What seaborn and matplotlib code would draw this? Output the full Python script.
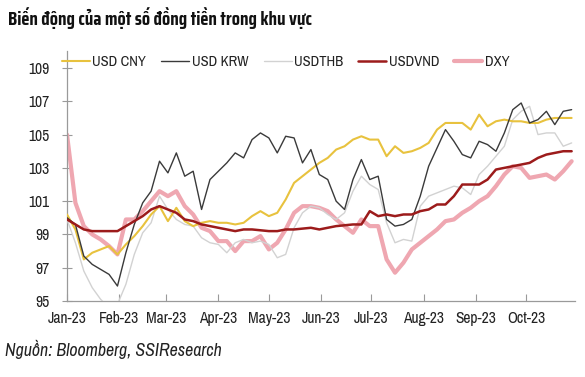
import numpy as np
import pandas as pd
import matplotlib
matplotlib.use("Agg")
import matplotlib.pyplot as plt
import matplotlib.dates as mdates
from matplotlib import font_manager as fm
from matplotlib.textpath import TextPath
from matplotlib.ft2font import FT2Font
import seaborn as sns

# ---------------- data ----------------
dates = pd.date_range("2023-01-01", periods=61, freq="5D")

usd_cny = [100.2, 99.3, 97.5, 97.9, 98.1, 98.3, 97.8, 98.4, 98.9, 99.5, 100.2, 100.7, 99.8, 100.6, 99.8,
           99.5, 99.7, 99.8, 99.7, 99.7, 99.6, 99.7, 100.1, 100.4, 100.1, 100.3, 101.1, 102.1, 102.5, 102.9,
           103.3, 103.6, 104.1, 104.3, 104.7, 104.9, 104.7, 104.7, 103.7, 104.3, 103.9, 104.0, 104.2, 104.5, 105.3,
           105.7, 105.7, 105.7, 105.3, 106.2, 105.5, 105.8, 105.9, 105.8, 105.8, 105.7, 105.7, 105.9, 106.0, 106.0, 106.0]

usd_krw = [100.0, 99.6, 97.7, 97.2, 96.9, 96.6, 95.9, 97.9, 99.6, 100.9, 101.6, 103.4, 102.7, 103.9, 102.5,
           102.8, 100.5, 102.3, 102.8, 103.3, 103.9, 103.6, 104.7, 105.1, 104.8, 103.9, 104.9, 104.8, 103.3, 104.1,
           102.6, 102.3, 101.0, 100.5, 102.3, 103.5, 102.3, 102.5, 99.9, 99.5, 99.6, 99.9, 101.3, 103.1, 104.2,
           105.3, 104.6, 103.8, 103.6, 104.6, 104.4, 104.0, 105.1, 106.5, 106.9, 105.7, 105.9, 106.4, 105.6, 106.4, 106.5]

usd_thb = [99.9, 98.5, 96.8, 95.8, 95.1, 94.6, 94.8, 96.0, 97.8, 99.1, 99.7, 101.3, 100.5, 99.9, 99.6,
           99.5, 98.8, 98.5, 98.4, 97.9, 98.5, 98.7, 98.5, 98.6, 98.4, 97.6, 97.8, 99.4, 100.3, 100.7,
           100.6, 100.2, 99.9, 100.3, 101.6, 102.5, 102.0, 101.7, 99.7, 98.5, 98.7, 98.6, 100.7, 101.3, 101.5,
           101.7, 101.9, 101.8, 101.4, 102.6, 103.1, 103.7, 104.3, 105.9, 106.4, 106.7, 105.0, 105.1, 105.1, 104.3, 104.5]

usd_vnd = [99.9, 99.6, 99.3, 99.2, 99.2, 99.2, 99.2, 99.5, 99.8, 100.1, 100.5, 100.7, 100.5, 100.3, 99.9,
           99.8, 99.6, 99.5, 99.4, 99.3, 99.2, 99.3, 99.3, 99.25, 99.2, 99.2, 99.3, 99.3, 99.35, 99.4,
           99.3, 99.4, 99.5, 99.55, 99.6, 99.6, 100.4, 100.1, 100.2, 100.1, 100.2, 100.2, 100.4, 100.5, 100.8,
           100.8, 101.3, 102.0, 102.0, 102.0, 102.3, 102.9, 103.0, 103.1, 103.2, 103.3, 103.6, 103.8, 103.9, 104.0, 104.0]

dxy = [105.0, 100.9, 99.5, 99.0, 98.7, 98.3, 97.8, 99.9, 99.9, 100.4, 101.0, 101.6, 101.3, 101.6, 100.7,
       100.2, 99.4, 99.2, 98.6, 98.6, 98.0, 98.6, 98.6, 98.9, 98.1, 98.5, 99.3, 100.3, 100.7, 100.7,
       100.6, 100.4, 99.9, 99.5, 99.1, 99.9, 99.5, 99.5, 97.5, 96.7, 97.3, 98.1, 98.5, 98.9, 99.3,
       99.8, 99.9, 100.3, 100.6, 101.0, 101.3, 101.9, 102.6, 103.1, 103.0, 102.4, 102.5, 102.6, 102.3, 102.8, 103.4]

series_names = ["USD CNY", "USD KRW", "USDTHB", "USDVND", "DXY"]
month_ticks = pd.date_range("2023-01-01", "2023-10-01", freq="MS")
y_ticks = [95, 97, 99, 101, 103, 105, 107, 109]
title = "Biến động của một số đồng tiền trong khu vực"
source = "Nguồn: Bloomberg, SSIResearch"

df = pd.DataFrame({"date": dates, "USD CNY": usd_cny, "USD KRW": usd_krw,
                   "USDTHB": usd_thb, "USDVND": usd_vnd, "DXY": dxy})
long = df.melt(id_vars="date", var_name="series", value_name="value")

# ---------------- fonts: pick narrow sans faces close to Arial Narrow ----------------
sns.set_style("white")

body_candidates = ["Archivo Narrow", "Roboto Condensed", "Fira Sans Condensed",
                   "Fira Sans Extra Condensed", "Barlow Condensed", "Barlow Semi Condensed",
                   "Encode Sans Condensed", "Asap Condensed", "IBM Plex Sans Condensed",
                   "PT Sans Narrow", "Open Sans Condensed", "Saira Condensed",
                   "Sofia Sans Condensed", "Liberation Sans"]
title_candidates = body_candidates + ["Fira Sans Extra Condensed", "Saira Extra Condensed",
                                      "Sofia Sans Extra Condensed", "Encode Sans Compressed",
                                      "Barlow Condensed", "Roboto Condensed", "Oswald",
                                      "Archivo Narrow"]
needed = set(title + source + "".join(series_names) + "Jan-23")


def font_props(fam, weight="normal"):
    try:
        fp = fm.FontProperties(family=fam, weight=weight)
        path = fm.findfont(fp, fallback_to_default=False)
    except Exception:
        return None
    try:
        ft = FT2Font(path)
        if weight == "bold" and "bold" not in ft.style_name.lower():
            return None
        if any(ft.get_char_index(ord(c)) == 0 for c in needed if c != " "):
            return None
    except Exception:
        return None
    return fp


def ratio(fp, s, cap):
    w = TextPath((0, 0), s, size=10, prop=fp).get_extents().width
    h = TextPath((0, 0), cap, size=10, prop=fp).get_extents().height
    return w / h


body_best, title_best = None, None
for fam in body_candidates:
    fp = font_props(fam)
    if fp is not None:
        score = abs(ratio(fp, "Jan-23", "H") - 3.55)
        if body_best is None or score < body_best[0]:
            body_best = (score, fam)
for fam in title_candidates:
    fpb = font_props(fam, "bold")
    if fpb is not None:
        score = abs(ratio(fpb, title, "B") - 22.8)
        if title_best is None or score < title_best[0]:
            title_best = (score, fam)

body_font = body_best[1] if body_best else "DejaVu Sans"
title_font = title_best[1] if title_best else body_font
plt.rcParams["font.family"] = [body_font, "DejaVu Sans"]

styles = {
    "DXY":     dict(color="#EFA7B1", lw=3.0, z=2),
    "USDTHB":  dict(color="#D2D2D2", lw=1.0, z=3),
    "USD CNY": dict(color="#E8C23E", lw=1.5, z=4),
    "USD KRW": dict(color="#3A3A3A", lw=1.0, z=5),
    "USDVND":  dict(color="#9C1B1B", lw=1.8, z=6),
}

fig = plt.figure(figsize=(5.85, 3.77), dpi=100)
renderer = fig.canvas.get_renderer()


def text_width(s, size, **kw):
    t = fig.text(0, 0, s, fontsize=size, **kw)
    w = t.get_window_extent(renderer).width
    t.remove()
    return w


def fit_size(s, target_px, **kw):
    return 10.0 * target_px / text_width(s, 10.0, **kw)


tick_fs = fit_size("Jan-23", 39)
leg_fs = fit_size("USD CNY", 54)
title_kw = dict(fontweight="bold", family=[title_font, "DejaVu Sans"])
title_fs = fit_size(title, 305, **title_kw)
src_fs = fit_size(source, 218, style="italic")

ax = fig.add_axes([67 / 585, 1 - 301 / 377, (575 - 67) / 585, (301 - 51.4) / 377])

handles = {}
for name in ["DXY", "USDTHB", "USD CNY", "USD KRW", "USDVND"]:
    st = styles[name]
    sub = long[long["series"] == name]
    sns.lineplot(data=sub, x="date", y="value", ax=ax, color=st["color"],
                 linewidth=st["lw"], zorder=st["z"], label=name, legend=False)
    handles[name] = ax.get_lines()[-1]

ax.set_xlim(pd.Timestamp("2023-01-01"), pd.Timestamp("2023-10-30"))
ax.set_ylim(95, 110)
ax.set_yticks(y_ticks)
ax.set_xticks(month_ticks)
ax.xaxis.set_major_formatter(mdates.DateFormatter("%b-%y"))
ax.set_xlabel("")
ax.set_ylabel("")

for s in ["top", "right"]:
    ax.spines[s].set_visible(False)
for s in ["left", "bottom"]:
    ax.spines[s].set_color("#9A9A9A")
    ax.spines[s].set_linewidth(0.9)

ax.tick_params(axis="y", direction="inout", length=7, width=0.8, color="#9A9A9A",
               labelsize=tick_fs, pad=9, labelcolor="#222222", left=True)
ax.tick_params(axis="x", direction="in", length=5, width=0.8, color="#9A9A9A",
               labelsize=tick_fs, pad=7, labelcolor="#222222", bottom=True)

leg_px = leg_fs * 100 / 72
leg = ax.legend([handles[n] for n in series_names], series_names,
                loc="center left", bbox_to_anchor=(62 / 585, 1 - 62 / 377),
                bbox_transform=fig.transFigure, ncol=5, frameon=False,
                fontsize=leg_fs, handlelength=28 / leg_px, handletextpad=2.5 / leg_px,
                columnspacing=15 / leg_px, borderpad=0, borderaxespad=0)
for t in leg.get_texts():
    t.set_color("#222222")

fig.text(8 / 585, 1 - 18 / 377, title, fontsize=title_fs, va="center", ha="left",
         color="#111111", **title_kw)
fig.text(5 / 585, 1 - 349 / 377, source, fontsize=src_fs, style="italic",
         va="center", ha="left", color="#222222")

fig.savefig("out.png", dpi=100)
